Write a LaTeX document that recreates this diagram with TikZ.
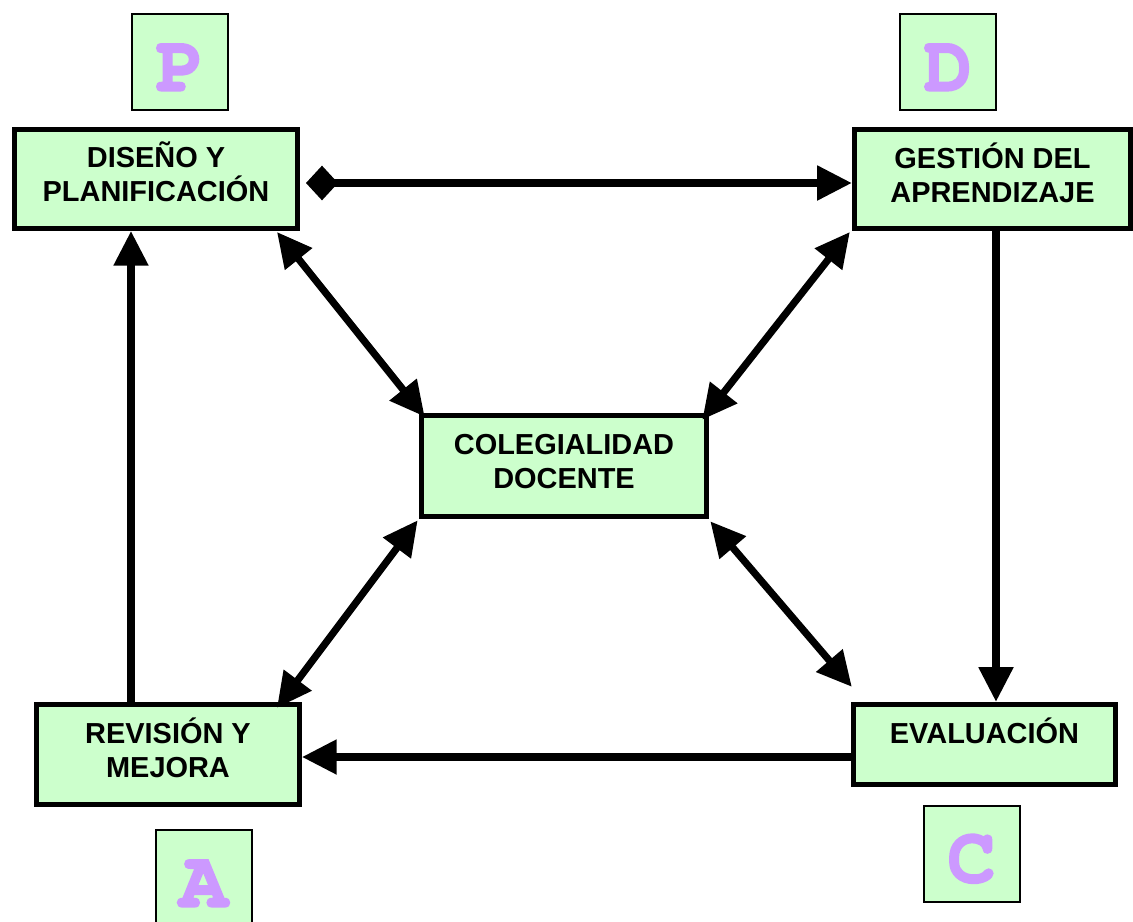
\documentclass[tikz,border=0pt]{standalone}
\usepackage{fontspec}
\setmainfont{Liberation Sans}
\newfontfamily\letterfont{TeX Gyre Cursor}[BoldFeatures={FakeBold=2.5}]
\usetikzlibrary{arrows.meta,calc}
\definecolor{boxfill}{HTML}{CCFFCC}
\definecolor{letcol}{HTML}{CC99FF}
\newcommand\lowpad[1]{\rule[-#1]{0pt}{#1}}
\begin{document}
\begin{tikzpicture}[x=0.75pt,y=-0.75pt,
  box/.style={draw=black,fill=boxfill,line width=4pt,align=center,inner sep=0pt,
    font=\fontsize{21.7}{25.5}\selectfont\bfseries},
  letbox/.style={draw=black,fill=boxfill,line width=1.5pt,inner sep=0pt,
    minimum width=72pt,minimum height=72pt,text=letcol,
    font=\fontsize{60}{60}\selectfont\letterfont\bfseries},
  conn/.style={line width=5.4pt,draw=black},
  both/.style={conn,{Triangle[length=26pt,width=25pt]}-{Triangle[length=26pt,width=25pt]}}
]
\useasboundingbox (0,0) rectangle (1133,922);
% letter boxes
\node[letbox] (P) at (180,62) {\rule{0pt}{43pt}P};
\node[letbox] (D) at (948,62) {\rule{0pt}{43pt}D};
\node[letbox] (A) at (203.5,878) {\rule{0pt}{43pt}A};
\node[letbox] (C) at (971.5,854) {\rule{0pt}{43pt}C};
% main boxes
\node[box,minimum width=212pt,minimum height=74pt] (dp) at (156,179) {DISEÑO Y\\PLANIFICACIÓN\lowpad{10.5pt}};
\node[box,minimum width=207pt,minimum height=74pt] (ga) at (992.5,179) {GESTIÓN DEL\\APRENDIZAJE\lowpad{10pt}};
\node[box,minimum width=214pt,minimum height=76pt] (cd) at (564,466) {COLEGIALIDAD\\DOCENTE\lowpad{7pt}};
\node[box,minimum width=197pt,minimum height=75pt] (rm) at (168,754.5) {REVISIÓN Y\\MEJORA\lowpad{10.5pt}};
\node[box,minimum width=196.5pt,minimum height=60pt,text height=15.5pt,text depth=17pt] (ev) at (984.5,744.5) {EVALUACIÓN};
% helper coordinates
\coordinate (xup) at (131,0);
\coordinate (xdn) at (996,0);
\coordinate (ytop) at (0,183);
\coordinate (ybot) at (0,757);
% straight connectors
\draw[conn,{Diamond[length=24pt,width=26pt]}-{Triangle[length=26pt,width=25pt]}]
  ($(dp.east |- ytop)+(6,0)$) -- (ga.west |- ytop);
\draw[conn,-{Triangle[length=26pt,width=25pt]}] (rm.north -| xup) -- (dp.south -| xup);
\draw[conn,-{Triangle[length=26pt,width=25pt]}] (ga.south -| xdn) -- (ev.north -| xdn);
\draw[conn,-{Triangle[length=26pt,width=25pt]}] (ev.west |- ybot) -- (rm.east |- ybot);
% diagonal connectors
\draw[both] ($(dp.south east)+(-23,1)$) -- ($(cd.north west)+(6,4)$);
\draw[both] ($(ga.south west)+(-2,1)$) -- ($(cd.north east)+(-7,7)$);
\draw[both] ($(cd.south west)+(-1,1)$) -- ($(rm.north east)+(-25,6)$);
\draw[both] ($(cd.south east)+(1,2)$) -- ($(ev.north west)+(1,-15)$);
\end{tikzpicture}
\end{document}
